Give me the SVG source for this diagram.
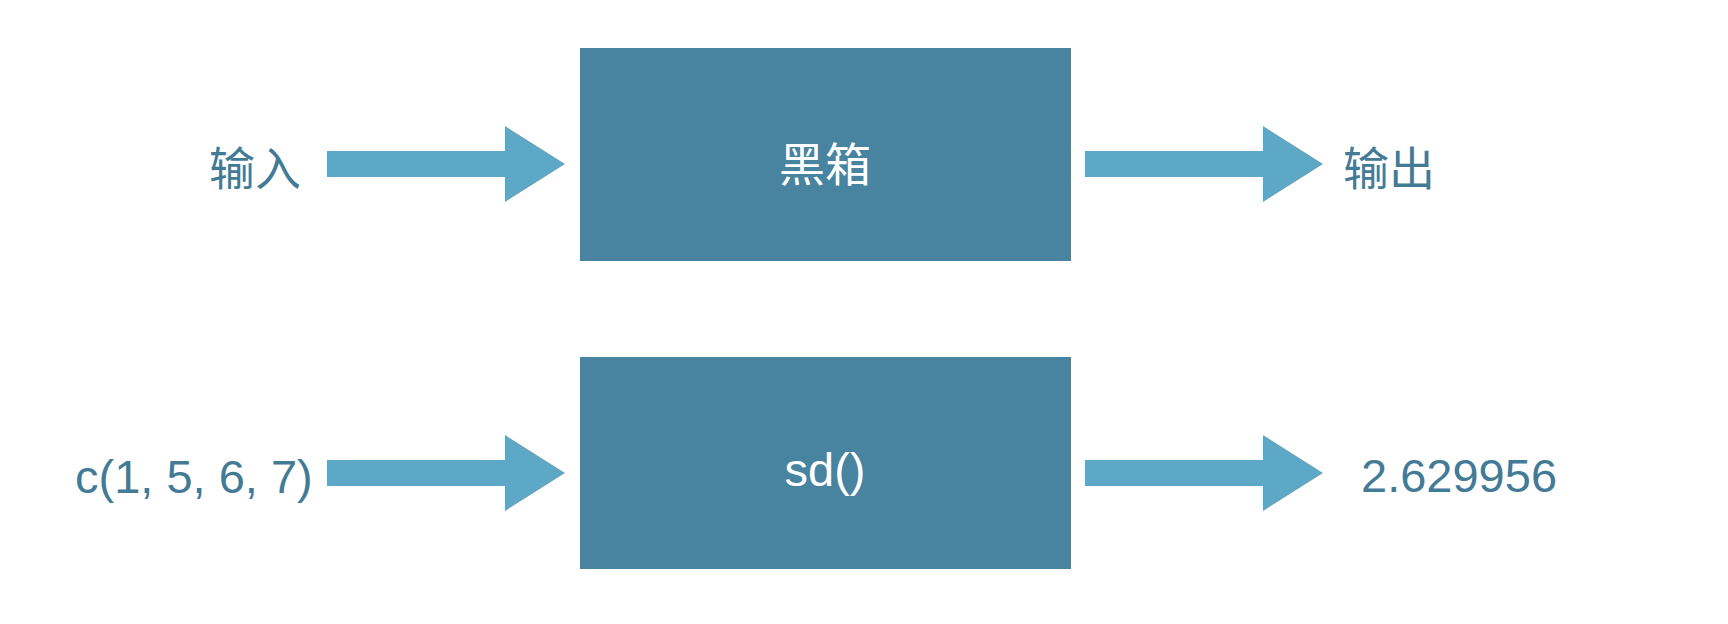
<svg xmlns="http://www.w3.org/2000/svg" width="1728" height="624" viewBox="0 0 1728 624">
<style>
.box{fill:#4883a0;}
.arrow{fill:#5ea8c7;}
.lbl{fill:#437b95;font-family:"Liberation Sans","Noto Sans CJK SC",sans-serif;}
.cjk{font-family:"Noto Sans CJK SC","Noto Sans",sans-serif;font-size:46px;}
.num{font-size:47px;}
.inbox{fill:#ffffff;}
</style>
<rect x="0" y="0" width="1728" height="624" fill="#ffffff"/>
<defs>
<path id="arr" d="M0,-13 L178,-13 L178,-38 L238,0 L178,38 L178,13 L0,13 Z"/>
</defs>
<g id="connectors">
<use href="#arr" class="arrow" x="327" y="164"/>
<use href="#arr" class="arrow" x="1085" y="164"/>
<use href="#arr" class="arrow" x="327" y="473"/>
<use href="#arr" class="arrow" x="1085" y="473"/>
</g>
<g id="input1"><text class="lbl cjk" x="255" y="165" text-anchor="middle" dominant-baseline="central">输入</text></g>
<g id="blackbox"><rect class="box" x="580" y="48" width="491" height="213"/><text class="lbl cjk inbox" x="825" y="161" text-anchor="middle" dominant-baseline="central">黑箱</text></g>
<g id="output1"><text class="lbl cjk" x="1389" y="165" text-anchor="middle" dominant-baseline="central">输出</text></g>
<g id="input2"><text class="lbl num" x="75" y="493">c(1, 5, 6, 7)</text></g>
<g id="sdbox"><rect class="box" x="580" y="357" width="491" height="212"/><text class="lbl inbox" x="825" y="486" font-size="47" text-anchor="middle">sd()</text></g>
<g id="output2"><text class="lbl num" x="1361" y="492">2.629956</text></g>
</svg>
